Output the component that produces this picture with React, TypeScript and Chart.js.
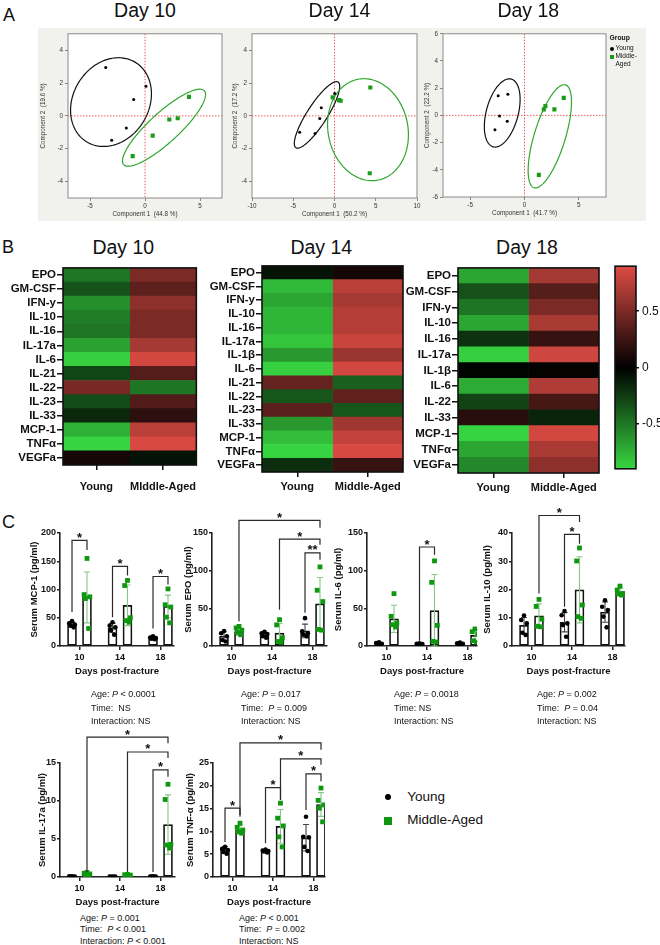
import React, { useEffect, useRef } from 'react';
import { Chart, registerables } from 'chart.js';

Chart.register(...registerables);

const FF = '"Liberation Sans", Arial, Helvetica, sans-serif';
Chart.defaults.font.family = FF;
Chart.defaults.color = '#111';

// ================= Panel A : PCA =================
const pcaTitles = ['Day 10', 'Day 14', 'Day 18'];
const pcaXTitles = ['Component 1  (44.8 %)', 'Component 1  (50.2 %)', 'Component 1  (41.7 %)'];
const pcaYTitles = ['Component 2  (19.6 %)', 'Component 2  (17.2 %)', 'Component 2  (22.2 %)'];
const pcaXRange = [[-7, 7], [-10, 10], [-7.5, 7.5]];
const pcaYRange = [[-5, 5], [-5, 5], [-6, 6]];
const pcaXTicks = [[-5, 0, 5], [-10, -5, 0, 5, 10], [-5, 0, 5]];
const pcaYTicks = [[-4, -2, 0, 2, 4], [-4, -2, 0, 2, 4], [-6, -4, -2, 0, 2, 4, 6]];

const pca10Young = [{ x: -3.57, y: 2.95 }, { x: 0.09, y: 1.81 }, { x: -1.03, y: 1.0 }, { x: -1.7, y: -0.74 }, { x: -3.03, y: -1.49 }];
const pca10Mid = [{ x: 4.0, y: 1.16 }, { x: 2.97, y: -0.14 }, { x: 2.21, y: -0.22 }, { x: 0.7, y: -1.2 }, { x: -1.12, y: -2.45 }];
const pca14Young = [{ x: -4.22, y: -1.0 }, { x: -2.36, y: -1.07 }, { x: -1.79, y: -0.16 }, { x: -1.6, y: 0.5 }, { x: 0.02, y: 1.37 }];
const pca14Mid = [{ x: -0.22, y: 1.13 }, { x: 0.55, y: 0.96 }, { x: 0.75, y: 0.92 }, { x: 4.34, y: 1.73 }, { x: 4.27, y: -3.49 }];
const pca18Young = [{ x: -1.53, y: 1.56 }, { x: -2.42, y: 1.44 }, { x: -2.3, y: -0.05 }, { x: -1.59, y: -0.44 }, { x: -2.72, y: -1.05 }];
const pca18Mid = [{ x: 3.61, y: 1.29 }, { x: 2.75, y: 0.44 }, { x: 1.92, y: 0.68 }, { x: 1.78, y: 0.44 }, { x: 1.32, y: -4.37 }];

// confidence ellipses: centre c, conjugate semi-axes u, v (data units)
const pcaEllYoung = [
  { c: [-3.09, 0.84], u: [2.14, 2.45], v: [2.99, -1.14] },
  { c: [-2.12, 0.06], u: [2.55, 2.0], v: [1.03, -0.32] },
  { c: [-2.05, 0.18], u: [0.83, 2.49], v: [1.42, -0.3] },
];
const pcaEllMid = [
  { c: [1.73, -0.72], u: [3.66, 2.25], v: [0.93, -0.66] },
  { c: [4.06, -0.84], u: [-1.21, 3.07], v: [4.75, 0.46] },
  { c: [2.33, -1.54], u: [1.45, 3.78], v: [1.37, -0.33] },
];
const pcaYoungSets = [pca10Young, pca14Young, pca18Young];
const pcaMidSets = [pca10Mid, pca14Mid, pca18Mid];

// ================= Panel B : heatmaps =================
const heatXNames10 = ['Young', 'MIddle-Aged'];
const heatXNames = ['Young', 'Middle-Aged'];
const heat10Rows = ['EPO', 'GM-CSF', 'IFN-y', 'IL-10', 'IL-16', 'IL-17a', 'IL-6', 'IL-21', 'IL-22', 'IL-23', 'IL-33', 'MCP-1', 'TNFα', 'VEGFa'];
const heat10Young = [-0.5, -0.35, -0.6, -0.52, -0.5, -0.68, -0.87, -0.29, 0.49, -0.32, -0.17, -0.74, -0.89, 0.08];
const heat10Mid = [0.5, 0.38, 0.57, 0.5, 0.5, 0.67, 0.85, 0.34, -0.49, 0.33, 0.18, 0.75, 0.87, -0.08];
const heat14Rows = ['EPO', 'GM-CSF', 'IFN-y', 'IL-10', 'IL-16', 'IL-17a', 'IL-1β', 'IL-6', 'IL-21', 'IL-22', 'IL-23', 'IL-33', 'MCP-1', 'TNFα', 'VEGFa'];
const heat14Young = [-0.08, -0.78, -0.7, -0.76, -0.76, -0.83, -0.64, -0.87, 0.41, -0.36, 0.37, -0.64, -0.8, -0.89, -0.19];
const heat14Mid = [0.08, 0.75, 0.67, 0.73, 0.73, 0.81, 0.63, 0.85, -0.4, 0.39, -0.36, 0.65, 0.79, 0.87, 0.22];
const heat18Rows = ['EPO', 'GM-CSF', 'IFN-γ', 'IL-10', 'IL-16', 'IL-17a', 'IL-1β', 'IL-6', 'IL-22', 'IL-33', 'MCP-1', 'TNFα', 'VEGFa'];
const heat18Young = [-0.7, -0.34, -0.49, -0.7, -0.21, -0.87, -0.02, -0.72, -0.28, 0.16, -0.89, -0.7, -0.57];
const heat18Mid = [0.67, 0.35, 0.5, 0.69, 0.22, 0.83, 0.02, 0.71, 0.28, -0.15, 0.85, 0.69, 0.57];
const colorMin = -0.9;
const colorMax = 0.9;
const colorTicks = [-0.5, 0, 0.5];

// ================= Panel C : serum bars =================
const days = ['10', '14', '18'];

const mcpYoungPts = [[44, 40, 38, 36, 33], [42, 36, 33, 28, 20], [17, 15, 14, 13, 12]];
const mcpYoungMean = [38, 32, 15];
const mcpYoungSD = [4, 8, 2];
const mcpMidPts = [[155, 91, 87, 84, 31], [116, 107, 50, 45, 42], [101, 73, 69, 51, 41]];
const mcpMidMean = [86, 72, 70];
const mcpMidSD = [45, 36, 20];

const epoYoungPts = [[20, 17, 13, 8, 6], [19, 17, 16, 13, 11], [37, 19.5, 17, 15, 13]];
const epoYoungMean = [13, 15, 20];
const epoYoungSD = [6, 3, 9];
const epoMidPts = [[26, 24, 21, 18, 15], [35, 28, 11, 6, 5], [105, 74, 59, 22, 21]];
const epoMidMean = [19, 17, 56];
const epoMidSD = [5, 13, 35];

const il6YoungPts = [[5, 4, 3, 2.5, 2], [3.5, 3, 2.5, 2, 1.5], [4.5, 3.5, 3, 2.5, 2]];
const il6YoungMean = [3.5, 2.5, 3];
const il6YoungSD = [1.2, 0.8, 1];
const il6MidPts = [[69.5, 39.4, 30.5, 28.3, 25.2], [113, 84.5, 27.4, 6.2, 5.3], [22.6, 19, 16, 7, 5.3]];
const il6MidMean = [36, 47, 14];
const il6MidSD = [18, 48, 8];

const il10YoungPts = [[10.8, 9.2, 8, 4.7, 3.9], [12.4, 10.9, 8, 7.4, 3.3], [16.2, 13.9, 12.7, 10.4, 6.6]];
const il10YoungMean = [7.3, 8.4, 12];
const il10YoungSD = [2.8, 3.4, 3.6];
const il10MidPts = [[16.5, 14, 9.5, 7, 6.8], [34.7, 30.1, 14.5, 10.4, 9.8], [21.2, 19.8, 18.6, 18.4, 18]];
const il10MidMean = [10.7, 19.9, 19.2];
const il10MidSD = [4.2, 11.7, 1.3];

const il17YoungPts = [[0.1, 0.08, 0.06, 0.05, 0.04], [0.06, 0.05, 0.05, 0.04, 0.04], [0.08, 0.06, 0.05, 0.05, 0.04]];
const il17YoungMean = [0.07, 0.05, 0.06];
const il17YoungSD = [0.02, 0.01, 0.02];
const il17MidPts = [[0.6, 0.5, 0.4, 0.3, 0.2], [0.35, 0.3, 0.25, 0.2, 0.15], [12.2, 10.2, 4.3, 4.2, 3.8]];
const il17MidMean = [0.4, 0.25, 6.9];
const il17MidSD = [0.15, 0.08, 3.9];

const tnfYoungPts = [[6.6, 6.2, 5.9, 5.5, 5.1], [6.0, 5.8, 5.7, 5.6, 5.4], [13.2, 8.8, 8.7, 6.6, 5.7]];
const tnfYoungMean = [6.1, 5.7, 8.6];
const tnfYoungSD = [0.6, 0.2, 2.9];
const tnfMidPts = [[11.8, 10.9, 10.3, 9.9, 9.6], [16.2, 12.9, 11.2, 8.8, 6.6], [19.5, 16.8, 15.8, 15.1, 12.1]];
const tnfMidMean = [10.4, 11.1, 15.9];
const tnfMidSD = [0.9, 3.7, 2.6];

// brackets: a/b = [day index, series (0 young, 1 middle)], y = bar level, ya/yb = leg ends
const mcpBrackets = [
  { a: [0, 0], b: [0, 1], y: 187, ya: 60, yb: 170, t: '*' },
  { a: [1, 0], b: [1, 1], y: 141, ya: 51, yb: 125, t: '*' },
  { a: [2, 0], b: [2, 1], y: 123, ya: 31, yb: 109, t: '*' },
];
const epoBrackets = [
  { a: [0, 1], b: [2, 1], y: 166.8, ya: 33, yb: 157, t: '*' },
  { a: [1, 1], b: [2, 1], y: 142, ya: 48, yb: 134.5, t: '*' },
  { a: [2, 0], b: [2, 1], y: 123.5, ya: 44, yb: 114.6, t: '**' },
];
const il6Brackets = [{ a: [1, 0], b: [1, 1], y: 131.4, ya: 7, yb: 121, t: '*' }];
const il10Brackets = [
  { a: [0, 1], b: [1, 1], y: 46.2, ya: 18.6, yb: 43.9, t: '*' },
  { a: [1, 0], b: [1, 1], y: 39.5, ya: 13.9, yb: 36.2, t: '*' },
];
const il17Brackets = [
  { a: [0, 1], b: [2, 1], y: 18.4, ya: 0.66, yb: 17.6, t: '*' },
  { a: [1, 1], b: [2, 1], y: 16.45, ya: 0.66, yb: 15.66, t: '*' },
  { a: [2, 0], b: [2, 1], y: 14.1, ya: 0.66, yb: 13.2, t: '*' },
];
const tnfBrackets = [
  { a: [0, 1], b: [2, 1], y: 29.4, ya: 13.6, yb: 27.9, t: '*' },
  { a: [1, 1], b: [2, 1], y: 25.9, ya: 16.9, yb: 24.6, t: '*' },
  { a: [2, 0], b: [2, 1], y: 22.6, ya: 14.7, yb: 21, t: '*' },
  { a: [1, 0], b: [1, 1], y: 19.6, ya: 7.4, yb: 16.9, t: '*' },
  { a: [0, 0], b: [0, 1], y: 15.1, ya: 7.7, yb: 13.2, t: '*' },
];

const mcpYTicks = [0, 50, 100, 150, 200];
const epoYTicks = [0, 50, 100, 150];
const il6YTicks = [0, 50, 100, 150];
const il10YTicks = [0, 10, 20, 30, 40];
const il17YTicks = [0, 5, 10, 15];
const tnfYTicks = [0, 5, 10, 15, 20, 25];

const statsMCP = ['Age: P < 0.0001', 'Time:  NS', 'Interaction: NS'];
const statsEPO = ['Age: P = 0.017', 'Time:  P = 0.009', 'Interaction: NS'];
const statsIL6 = ['Age: P = 0.0018', 'Time: NS', 'Interaction: NS'];
const statsIL10 = ['Age: P = 0.002', 'Time:  P = 0.04', 'Interaction: NS'];
const statsIL17 = ['Age: P = 0.001', 'Time:  P < 0.001', 'Interaction: P < 0.001'];
const statsTNF = ['Age: P < 0.001', 'Time:  P = 0.002', 'Interaction: NS'];

// ================= helpers =================
const GREEN = '#0f970f';

function heatColor(v: number) {
  const t = Math.min(1, Math.abs(v) / colorMax);
  const c = v >= 0 ? [222, 76, 68] : [56, 214, 66];
  return `rgb(${c.map((k) => Math.round(k * t)).join(',')})`;
}

const frameRect = (color: string, width: number) => ({
  id: 'frameRect',
  afterDraw(chart: any) {
    const { ctx, chartArea: a } = chart;
    ctx.save();
    ctx.strokeStyle = color;
    ctx.lineWidth = width;
    ctx.strokeRect(a.left, a.top, a.right - a.left, a.bottom - a.top);
    ctx.restore();
  },
});

type Box = { x: number; y: number; w: number; h: number };
function frameLeft(l: number, t: number, r: number, b: number, yW: number, xH: number, padT: number, padR: number): Box {
  return { x: l - yW, y: t - padT, w: yW + (r - l) + padR, h: padT + (b - t) + xH };
}

function ChartCanvas({ make, box }: { make: () => any; box: Box }) {
  const ref = useRef<HTMLCanvasElement>(null);
  useEffect(() => {
    const chart = new Chart(ref.current as HTMLCanvasElement, make());
    return () => chart.destroy();
  }, []);
  return (
    <canvas
      ref={ref}
      width={box.w}
      height={box.h}
      style={{ position: 'absolute', left: box.x, top: box.y, width: box.w, height: box.h }}
    />
  );
}

// ---------- PCA ----------
function pcaConfig(i: number, yW: number, xH: number, padT: number, padR: number) {
  const ells = [
    { e: pcaEllYoung[i], color: '#111' },
    { e: pcaEllMid[i], color: '#2fa72f' },
  ];
  const decor = {
    id: 'pcaDecor',
    beforeDraw(chart: any) {
      const { ctx, chartArea: a } = chart;
      ctx.save();
      ctx.fillStyle = '#ffffff';
      ctx.fillRect(a.left, a.top, a.right - a.left, a.bottom - a.top);
      ctx.restore();
    },
    beforeDatasetsDraw(chart: any) {
      const { ctx, chartArea: a, scales } = chart;
      const xs = scales.x;
      const ys = scales.y;
      ctx.save();
      ctx.beginPath();
      ctx.rect(a.left, a.top, a.right - a.left, a.bottom - a.top);
      ctx.clip();
      ctx.strokeStyle = '#e8343a';
      ctx.lineWidth = 0.8;
      ctx.setLineDash([1.5, 1.5]);
      const x0 = xs.getPixelForValue(0);
      const y0 = ys.getPixelForValue(0);
      ctx.beginPath();
      ctx.moveTo(x0, a.top);
      ctx.lineTo(x0, a.bottom);
      ctx.moveTo(a.left, y0);
      ctx.lineTo(a.right, y0);
      ctx.stroke();
      ctx.setLineDash([]);
      ctx.lineWidth = 1.2;
      for (const { e, color } of ells) {
        ctx.strokeStyle = color;
        ctx.beginPath();
        for (let k = 0; k <= 160; k++) {
          const t = (k / 160) * Math.PI * 2;
          const px = xs.getPixelForValue(e.c[0] + e.u[0] * Math.cos(t) + e.v[0] * Math.sin(t));
          const py = ys.getPixelForValue(e.c[1] + e.u[1] * Math.cos(t) + e.v[1] * Math.sin(t));
          if (k === 0) ctx.moveTo(px, py);
          else ctx.lineTo(px, py);
        }
        ctx.closePath();
        ctx.stroke();
      }
      ctx.restore();
    },
  };
  const tickFont = { size: 6.3 };
  return {
    type: 'scatter',
    data: {
      datasets: [
        { data: pcaYoungSets[i], pointStyle: 'circle', pointRadius: 1.5, pointBackgroundColor: '#000', pointBorderWidth: 0 },
        { data: pcaMidSets[i], pointStyle: 'rect', pointRadius: 2.9, pointBackgroundColor: '#1a9c1a', pointBorderWidth: 0 },
      ],
    },
    options: {
      animation: false,
      responsive: false,
      events: [],
      layout: { padding: { top: padT, right: padR, left: 0, bottom: 0 } },
      plugins: { legend: { display: false }, tooltip: { enabled: false } },
      scales: {
        x: {
          type: 'linear',
          min: pcaXRange[i][0],
          max: pcaXRange[i][1],
          afterBuildTicks: (s: any) => {
            s.ticks = pcaXTicks[i].map((v) => ({ value: v }));
          },
          afterFit: (s: any) => {
            s.height = xH;
          },
          ticks: { font: tickFont, color: '#333', padding: 1, maxRotation: 0 },
          grid: { drawOnChartArea: false, tickLength: 3, color: '#888' },
          border: { display: false },
          title: { display: true, text: pcaXTitles[i], font: tickFont, color: '#333', padding: 0 },
        },
        y: {
          type: 'linear',
          min: pcaYRange[i][0],
          max: pcaYRange[i][1],
          afterBuildTicks: (s: any) => {
            s.ticks = pcaYTicks[i].map((v) => ({ value: v }));
          },
          afterFit: (s: any) => {
            s.width = yW;
          },
          ticks: { font: tickFont, color: '#333', padding: 2 },
          grid: { drawOnChartArea: false, tickLength: 3, color: '#888' },
          border: { display: false },
          title: { display: true, text: pcaYTitles[i], font: tickFont, color: '#333', padding: 0 },
        },
      },
    },
    plugins: [decor, frameRect('#8a8a8a', 1)],
  };
}

// ---------- heatmap ----------
function heatConfig(rows: string[], young: number[], mid: number[], xNames: string[], yW: number, xH: number, padT: number, padR: number, xPad: number) {
  const bold = { size: 11.5, weight: 'bold' as const };
  return {
    type: 'bar',
    data: {
      labels: rows,
      datasets: [
        { data: rows.map(() => [0, 1]), backgroundColor: young.map(heatColor) },
        { data: rows.map(() => [1, 2]), backgroundColor: mid.map(heatColor) },
      ],
    },
    options: {
      indexAxis: 'y',
      animation: false,
      responsive: false,
      events: [],
      layout: { padding: { top: padT, right: padR, left: 0, bottom: 0 } },
      datasets: { bar: { grouped: false, barPercentage: 1, categoryPercentage: 1, borderWidth: 0 } },
      plugins: { legend: { display: false }, tooltip: { enabled: false } },
      scales: {
        x: {
          type: 'linear',
          min: 0,
          max: 2,
          afterBuildTicks: (s: any) => {
            s.ticks = [{ value: 0.5 }, { value: 1.5 }];
          },
          afterFit: (s: any) => {
            s.height = xH;
          },
          ticks: { callback: (v: number) => (v < 1 ? xNames[0] : xNames[1]), font: { size: 11, weight: 'bold' as const }, color: '#111', padding: xPad, maxRotation: 0, autoSkip: false },
          grid: { drawOnChartArea: false, tickLength: 5, color: '#111', lineWidth: 1.5 },
          border: { display: false },
        },
        y: {
          type: 'category',
          offset: true,
          afterFit: (s: any) => {
            s.width = yW;
          },
          ticks: { font: bold, color: '#111', padding: 1, autoSkip: false },
          grid: { offset: false, drawOnChartArea: false, tickLength: 6, color: '#111', lineWidth: 1.5 },
          border: { display: false },
        },
      },
    },
    plugins: [frameRect('#111', 1.6)],
  };
}

function colorBarConfig(yW: number, padT: number, padL: number) {
  return {
    type: 'bar',
    data: {
      labels: ['scale'],
      datasets: [
        {
          data: [[colorMin, colorMax]],
          backgroundColor: (c: any) => {
            const a = c.chart.chartArea;
            if (!a) return '#000';
            const g = c.chart.ctx.createLinearGradient(0, a.bottom, 0, a.top);
            g.addColorStop(0, heatColor(colorMin));
            g.addColorStop(0.5, heatColor(0));
            g.addColorStop(1, heatColor(colorMax));
            return g;
          },
          barPercentage: 1,
          categoryPercentage: 1,
          borderWidth: 0,
        },
      ],
    },
    options: {
      animation: false,
      responsive: false,
      events: [],
      layout: { padding: { top: padT, bottom: padT, left: padL, right: 0 } },
      plugins: { legend: { display: false }, tooltip: { enabled: false } },
      scales: {
        x: { display: false },
        y: {
          position: 'right',
          min: colorMin,
          max: colorMax,
          afterBuildTicks: (s: any) => {
            s.ticks = colorTicks.map((v) => ({ value: v }));
          },
          afterFit: (s: any) => {
            s.width = yW;
          },
          ticks: { font: { size: 12 }, color: '#111', padding: 3 },
          grid: { drawOnChartArea: false, tickLength: 3, color: '#111', lineWidth: 1.5 },
          border: { display: false },
        },
      },
    },
    plugins: [frameRect('#111', 1.6)],
  };
}

// ---------- grouped bars ----------
const GROUP_PX = 40.5;
const FIRST_PX = 19.5;
const OFF = 0.185;
const JIT = [0, -0.07, 0.07, -0.04, 0.04];

type BarSpec = {
  yTitle: string;
  yTicks: number[];
  youngPts: number[][];
  youngMean: number[];
  youngSD: number[];
  midPts: number[][];
  midMean: number[];
  midSD: number[];
  brackets: { a: number[]; b: number[]; y: number; ya: number; yb: number; t: string }[];
};

function barConfig(s: BarSpec, width: number, yW: number, xH: number, padT: number, padR: number) {
  const xMin = -FIRST_PX / GROUP_PX;
  const xMax = (width - FIRST_PX) / GROUP_PX;
  const pos = (g: number, ser: number) => g + (ser === 0 ? -OFF : OFF);
  const errPlugin = {
    id: 'errBars',
    afterDatasetDraw(chart: any, args: any) {
      const ds = chart.data.datasets[args.index];
      if (!ds.sd) return;
      const { ctx } = chart;
      const ys = chart.scales.y;
      ctx.save();
      ctx.strokeStyle = ds.errColor;
      ctx.lineWidth = 1.1;
      args.meta.data.forEach((el: any, i: number) => {
        const m = ds.data[i].y;
        const sd = ds.sd[i];
        const x = el.x;
        const top = ys.getPixelForValue(m + sd);
        const bot = ys.getPixelForValue(Math.max(0, m - sd));
        ctx.beginPath();
        ctx.moveTo(x, top);
        ctx.lineTo(x, bot);
        ctx.moveTo(x - 3, top);
        ctx.lineTo(x + 3, top);
        ctx.moveTo(x - 3, bot);
        ctx.lineTo(x + 3, bot);
        ctx.stroke();
      });
      ctx.restore();
    },
  };
  const bracketPlugin = {
    id: 'brackets',
    afterDraw(chart: any) {
      const { ctx } = chart;
      const xs = chart.scales.x;
      const ys = chart.scales.y;
      ctx.save();
      ctx.strokeStyle = '#2a2a2a';
      ctx.lineWidth = 1.2;
      ctx.fillStyle = '#111';
      ctx.font = `bold 13px ${FF}`;
      ctx.textAlign = 'center';
      ctx.textBaseline = 'alphabetic';
      for (const b of s.brackets) {
        const x1 = xs.getPixelForValue(pos(b.a[0], b.a[1]));
        const x2 = xs.getPixelForValue(pos(b.b[0], b.b[1]));
        const yy = ys.getPixelForValue(b.y);
        ctx.beginPath();
        ctx.moveTo(x1, ys.getPixelForValue(b.ya));
        ctx.lineTo(x1, yy);
        ctx.lineTo(x2, yy);
        ctx.lineTo(x2, ys.getPixelForValue(b.yb));
        ctx.stroke();
        ctx.fillText(b.t, (x1 + x2) / 2, yy + 1.5);
      }
      ctx.restore();
    },
  };
  const bold9 = { size: 9, weight: 'bold' as const };
  const titleFont = { size: 9.5, weight: 'bold' as const };
  return {
    type: 'bar',
    data: {
      datasets: [
        {
          type: 'scatter',
          order: 0,
          data: s.youngPts.flatMap((arr, g) => arr.map((v, k) => ({ x: pos(g, 0) + JIT[k % JIT.length], y: v }))),
          pointStyle: 'circle',
          pointRadius: 2.3,
          pointBackgroundColor: '#000',
          pointBorderWidth: 0,
        },
        {
          type: 'scatter',
          order: 0,
          data: s.midPts.flatMap((arr, g) => arr.map((v, k) => ({ x: pos(g, 1) + JIT[k % JIT.length], y: v }))),
          pointStyle: 'rect',
          pointRadius: 3.4,
          pointBackgroundColor: GREEN,
          pointBorderWidth: 0,
        },
        {
          type: 'bar',
          order: 1,
          data: s.youngMean.map((m, g) => ({ x: pos(g, 0), y: m })),
          sd: s.youngSD,
          errColor: '#444',
          backgroundColor: '#fff',
          borderColor: '#111',
          borderWidth: 1.7,
          borderSkipped: false,
          grouped: false,
          barThickness: 9,
        },
        {
          type: 'bar',
          order: 1,
          data: s.midMean.map((m, g) => ({ x: pos(g, 1), y: m })),
          sd: s.midSD,
          errColor: '#86c886',
          backgroundColor: '#fff',
          borderColor: '#111',
          borderWidth: 1.7,
          borderSkipped: false,
          grouped: false,
          barThickness: 9,
        },
      ],
    },
    options: {
      animation: false,
      responsive: false,
      events: [],
      layout: { padding: { top: padT, right: padR, left: 0, bottom: 0 } },
      plugins: { legend: { display: false }, tooltip: { enabled: false } },
      scales: {
        x: {
          type: 'linear',
          offset: false,
          min: xMin,
          max: xMax,
          afterBuildTicks: (sc: any) => {
            sc.ticks = days.map((_, i) => ({ value: i }));
          },
          afterFit: (sc: any) => {
            sc.height = xH;
          },
          ticks: { callback: (v: number) => days[v], font: bold9, color: '#111', padding: 2, maxRotation: 0 },
          grid: { drawOnChartArea: false, offset: false, tickLength: 4, color: '#222', lineWidth: 1.5 },
          border: { display: true, color: '#222', width: 1.6 },
          title: { display: true, text: 'Days post-fracture', font: titleFont, color: '#111', padding: 0 },
        },
        y: {
          type: 'linear',
          min: s.yTicks[0],
          max: s.yTicks[s.yTicks.length - 1],
          afterBuildTicks: (sc: any) => {
            sc.ticks = s.yTicks.map((v) => ({ value: v }));
          },
          afterFit: (sc: any) => {
            sc.width = yW;
          },
          ticks: { font: bold9, color: '#111', padding: 1 },
          grid: { drawOnChartArea: false, tickLength: 3, color: '#222', lineWidth: 1.5 },
          border: { display: true, color: '#222', width: 1.6 },
          title: { display: true, text: s.yTitle, font: titleFont, color: '#111', padding: 0 },
        },
      },
    },
    plugins: [errPlugin, bracketPlugin],
  };
}

const barSpecs: BarSpec[] = [
  { yTitle: 'Serum MCP-1 (pg/ml)', yTicks: mcpYTicks, youngPts: mcpYoungPts, youngMean: mcpYoungMean, youngSD: mcpYoungSD, midPts: mcpMidPts, midMean: mcpMidMean, midSD: mcpMidSD, brackets: mcpBrackets },
  { yTitle: 'Serum EPO (pg/ml)', yTicks: epoYTicks, youngPts: epoYoungPts, youngMean: epoYoungMean, youngSD: epoYoungSD, midPts: epoMidPts, midMean: epoMidMean, midSD: epoMidSD, brackets: epoBrackets },
  { yTitle: 'Serum IL-6 (pg/ml)', yTicks: il6YTicks, youngPts: il6YoungPts, youngMean: il6YoungMean, youngSD: il6YoungSD, midPts: il6MidPts, midMean: il6MidMean, midSD: il6MidSD, brackets: il6Brackets },
  { yTitle: 'Serum IL-10 (pg/ml)', yTicks: il10YTicks, youngPts: il10YoungPts, youngMean: il10YoungMean, youngSD: il10YoungSD, midPts: il10MidPts, midMean: il10MidMean, midSD: il10MidSD, brackets: il10Brackets },
  { yTitle: 'Serum IL-17a (pg/ml)', yTicks: il17YTicks, youngPts: il17YoungPts, youngMean: il17YoungMean, youngSD: il17YoungSD, midPts: il17MidPts, midMean: il17MidMean, midSD: il17MidSD, brackets: il17Brackets },
  { yTitle: 'Serum TNF-α (pg/ml)', yTicks: tnfYTicks, youngPts: tnfYoungPts, youngMean: tnfYoungMean, youngSD: tnfYoungSD, midPts: tnfMidPts, midMean: tnfMidMean, midSD: tnfMidSD, brackets: tnfBrackets },
];
const barStats = [statsMCP, statsEPO, statsIL6, statsIL10, statsIL17, statsTNF];

// page layout of the bar plot areas [left, top, right, bottom, yAxisWidth, statsLeft, statsTop, lineHeight]
const barAreas = [
  [60, 533, 174, 646, 31, 91, 688, 13.5],
  [212, 533, 327, 646, 29, 241, 688, 13.5],
  [367, 533, 477, 646, 34, 394, 688, 13.5],
  [512, 533, 625, 646, 30, 537, 688, 13.5],
  [60, 763, 175, 877, 23, 80, 912.5, 11.7],
  [213, 763, 325, 877, 28, 239, 912.5, 11.7],
];

// ---------- text helpers ----------
function StatLine({ text }: { text: string }) {
  const parts = text.split(/(\bP\b)/);
  return (
    <div>
      {parts.map((p, i) => (p === 'P' ? <i key={i}>P</i> : <span key={i}>{p}</span>))}
    </div>
  );
}

function Txt({ x, y, size, children, bold, w, align }: any) {
  return (
    <div
      style={{
        position: 'absolute',
        left: x,
        top: y,
        width: w,
        textAlign: align || 'left',
        font: `${bold ? 'bold ' : ''}${size}px ${FF}`,
        lineHeight: `${size}px`,
        color: '#111',
        whiteSpace: 'pre',
      }}
    >
      {children}
    </div>
  );
}

export default function App() {
  const pcaAreas = [
    [68, 33, 222, 198, 29],
    [252, 33, 417, 198, 21],
    [443, 33, 606, 197, 20],
  ];
  const pcaTitleX = [145, 339.5, 528.3];
  const heatAreas = [
    [63, 262, 203, 465, 10],
    [262, 260, 403, 472, 3],
    [458, 262, 599, 473, 3],
  ];
  const heatTitleX = [123.3, 321.3, 527];
  const heatData = [
    { rows: heat10Rows, young: heat10Young, mid: heat10Mid, names: heatXNames10 },
    { rows: heat14Rows, young: heat14Young, mid: heat14Mid, names: heatXNames },
    { rows: heat18Rows, young: heat18Young, mid: heat18Mid, names: heatXNames },
  ];

  return (
    <div style={{ position: 'absolute', left: 0, top: 0, width: 660, height: 945, overflow: 'hidden', background: '#fff' }}>
      {/* Panel A background */}
      <div style={{ position: 'absolute', left: 38, top: 28, width: 608, height: 193, background: '#f1f1ed' }} />
      <Txt x={3} y={5.5} size={18}>A</Txt>
      <Txt x={2} y={238} size={18}>B</Txt>
      <Txt x={2} y={512.5} size={18}>C</Txt>

      {pcaAreas.map((a, i) => {
        const box = frameLeft(a[0], a[1], a[2], a[3], a[4], 20, 5, 5);
        return <ChartCanvas key={'pca' + i} box={box} make={() => pcaConfig(i, a[4], 20, 5, 5)} />;
      })}
      {pcaTitles.map((t, i) => (
        <Txt key={'pt' + i} x={pcaTitleX[i] - 60} y={0.8} w={120} align="center" size={19.5}>
          {t}
        </Txt>
      ))}
      {/* PCA legend */}
      <Txt x={609.5} y={35} size={6.8} bold>Group</Txt>
      <div style={{ position: 'absolute', left: 609.5, top: 46.5, width: 4, height: 4, borderRadius: '50%', background: '#000' }} />
      <Txt x={615.5} y={45.3} size={6.5}>Young</Txt>
      <div style={{ position: 'absolute', left: 609.5, top: 54.5, width: 4, height: 4, background: '#1a9c1a' }} />
      <Txt x={615.5} y={53.3} size={6.5}>Middle-</Txt>
      <Txt x={615.5} y={61.3} size={6.5}>Aged</Txt>

      {heatAreas.map((a, i) => {
        const box = frameLeft(a[0], a[1], a[2], a[3], 60, 30, 2, 4);
        const d = heatData[i];
        return <ChartCanvas key={'hm' + i} box={box} make={() => heatConfig(d.rows, d.young, d.mid, d.names, 60, 30, 2, 4, a[4])} />;
      })}
      {pcaTitles.map((t, i) => (
        <Txt key={'ht' + i} x={heatTitleX[i] - 60} y={238} w={120} align="center" size={19.5}>
          {t}
        </Txt>
      ))}
      <ChartCanvas box={{ x: 613, y: 256, w: 2 + 21 + 40, h: 6 + 211 + 6 }} make={() => colorBarConfig(40, 6, 2)} />

      {barSpecs.map((s, i) => {
        const a = barAreas[i];
        const box = frameLeft(a[0], a[1], a[2], a[3], a[4], 31, 45, 6);
        return <ChartCanvas key={'bar' + i} box={box} make={() => barConfig(s, a[2] - a[0], a[4], 31, 45, 6)} />;
      })}
      {barStats.map((lines, i) => (
        <div
          key={'st' + i}
          style={{ position: 'absolute', left: barAreas[i][5], top: barAreas[i][6], font: `9px ${FF}`, lineHeight: `${barAreas[i][7]}px`, color: '#111', whiteSpace: 'pre' }}
        >
          {lines.map((l, k) => (
            <StatLine key={k} text={l} />
          ))}
        </div>
      ))}

      {/* Panel C legend */}
      <div style={{ position: 'absolute', left: 384.7, top: 793.7, width: 6, height: 6, borderRadius: '50%', background: '#000' }} />
      <Txt x={407.3} y={789.5} size={13.5}>Young</Txt>
      <div style={{ position: 'absolute', left: 384, top: 816.5, width: 8, height: 8, background: GREEN }} />
      <Txt x={407.3} y={812.8} size={13.5}>Middle-Aged</Txt>
    </div>
  );
}
